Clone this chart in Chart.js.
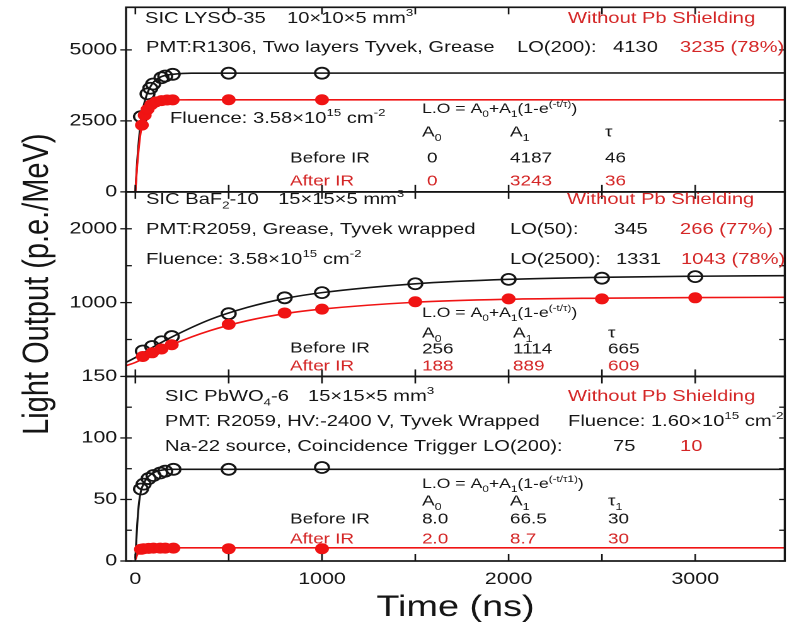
<!DOCTYPE html>
<html><head><meta charset="utf-8">
<script src="https://cdn.jsdelivr.net/npm/chart.js@4.4.0/dist/chart.umd.min.js"></script>
<style>
html,body{margin:0;padding:0;background:#fff;overflow:hidden;width:794px;height:627px}
#wrap{position:absolute;left:0;top:0;width:630px;height:627px;transform:scaleX(1.26032);transform-origin:0 0}
</style></head><body>
<div id="wrap"><canvas id="c"></canvas></div>
<script>
const S = 794 / 630;               // horizontal stretch of the original picture
const FONT = "'Liberation Sans', Arial, sans-serif";
const BLACK = '#151515', RED = '#f01414', RED_TXT = '#d42626';

// ---------- tick values / labels ----------
const xTicks = [0, 500, 1000, 1500, 2000, 2500, 3000];
const xLabels = ['0', '', '1000', '', '2000', '', '3000'];
const y1Ticks = [0, 2500, 5000];
const y1Labels = ['0', '2500', '5000'];
const y2Ticks = [0, 500, 1000, 1500, 2000, 2500];
const y2Labels = ['', '', '1000', '', '2000', ''];
const y3Ticks = [0, 25, 50, 75, 100, 125, 150];
const y3Labels = ['0', '', '50', '', '100', '', '150'];

// ---------- Panel 1 : LYSO-35 ----------
const lysoTimeBefore = [30, 65, 80, 95, 140, 160, 200, 500, 1000];
const lysoBefore = [2650, 3450, 3650, 3800, 4020, 4080, 4140, 4180, 4180];
const lysoTimeAfter = [35, 50, 65, 85, 110, 140, 170, 200, 500, 1000];
const lysoAfter = [2350, 2700, 2900, 3070, 3170, 3215, 3235, 3240, 3243, 3243];
const lysoFitTime = [0, 10, 20, 30, 45, 60, 80, 100, 130, 160, 200, 300, 3480];
const lysoFitBefore = [0, 1100, 1900, 2500, 3050, 3400, 3700, 3880, 4030, 4100, 4140, 4180, 4187];
const lysoFitAfter = [0, 950, 1650, 2150, 2600, 2850, 3050, 3150, 3210, 3230, 3240, 3243, 3243];

// ---------- Panel 2 : BaF2-10 ----------
const bafTime = [40, 90, 140, 195, 500, 800, 1000, 1500, 2000, 2500, 3000];
const bafBefore = [345, 405, 470, 540, 850, 1065, 1135, 1255, 1315, 1331, 1352];
const bafAfter = [270, 320, 372, 430, 705, 860, 912, 1012, 1050, 1050, 1065];
const bafFitTime = [-50, 0, 100, 200, 400, 600, 800, 1000, 1500, 2000, 2500, 3000, 3480];
const bafFitBefore = [190, 256, 405, 540, 770, 935, 1055, 1135, 1255, 1315, 1343, 1357, 1365];
const bafFitAfter = [147, 190, 320, 435, 620, 755, 850, 912, 1005, 1045, 1060, 1068, 1072];

// ---------- Panel 3 : PbWO4-6 ----------
const pwoTime = [30, 44, 71, 97, 133, 160, 204, 500, 1000];
const pwoBefore = [58.5, 62.5, 67, 69.5, 71.5, 73, 74.5, 74.5, 76];
const pwoAfter = [9.5, 10, 10.3, 10.5, 10.5, 10.5, 10.5, 10, 10];
const pwoFitTime = [0, 10, 20, 30, 45, 60, 80, 100, 130, 160, 200, 3480];
const pwoFitBefore = [2, 30, 48, 57, 63, 67, 70, 72, 73.5, 74.2, 74.5, 74.5];
const pwoFitAfter = [1, 5, 7.5, 8.8, 9.8, 10.2, 10.4, 10.5, 10.6, 10.6, 10.7, 10.7];

// ---------- annotations (reference-pixel positions) ----------
const notes = [
  // panel 1
  {x:145, y:17, t:'SIC LYSO-35'}, {x:287, y:17, t:'10×10×5 mm^{3}'},
  {x:568, y:17, t:'Without Pb Shielding', red:true},
  {x:146, y:46, t:'PMT:R1306, Two layers Tyvek, Grease'}, {x:517, y:46, t:'LO(200):'},
  {x:613, y:46, t:'4130'}, {x:680, y:46, t:'3235 (78%)', red:true},
  {x:170, y:117, t:'Fluence: 3.58×10^{15} cm^{-2}'},
  {x:422, y:108, t:'L.O = A_{0}+A_{1}(1-e^{(-t/τ)})', s:14},
  {x:422, y:131, t:'A_{0}', s:15}, {x:510, y:131, t:'A_{1}', s:15}, {x:605, y:131, t:'τ', s:15},
  {x:290, y:157, t:'Before IR', s:15}, {x:427, y:157, t:'0', s:15}, {x:510, y:157, t:'4187', s:15}, {x:605, y:157, t:'46', s:15},
  {x:290, y:180, t:'After IR', s:15, red:true}, {x:427, y:180, t:'0', s:15, red:true},
  {x:510, y:180, t:'3243', s:15, red:true}, {x:605, y:180, t:'36', s:15, red:true},
  // panel 2
  {x:146, y:198, t:'SIC BaF_{2}-10'}, {x:278, y:198, t:'15×15×5 mm^{3}'},
  {x:567, y:198, t:'Without Pb Shielding', red:true},
  {x:146, y:228, t:'PMT:R2059, Grease, Tyvek wrapped'}, {x:510, y:228, t:'LO(50):'},
  {x:614, y:228, t:'345'}, {x:680, y:228, t:'266 (77%)', red:true},
  {x:146, y:258, t:'Fluence: 3.58×10^{15} cm^{-2}'}, {x:510, y:258, t:'LO(2500):'},
  {x:616, y:258, t:'1331'}, {x:681, y:258, t:'1043 (78%)', red:true},
  {x:422, y:312, t:'L.O = A_{0}+A_{1}(1-e^{(-t/τ)})', s:14},
  {x:422, y:332, t:'A_{0}', s:15}, {x:513, y:332, t:'A_{1}', s:15}, {x:608, y:332, t:'τ', s:15},
  {x:290, y:347, t:'Before IR', s:15}, {x:422, y:348, t:'256', s:15}, {x:513, y:348, t:'1114', s:15}, {x:608, y:348, t:'665', s:15},
  {x:290, y:365, t:'After IR', s:15, red:true}, {x:422, y:365, t:'188', s:15, red:true},
  {x:513, y:365, t:'889', s:15, red:true}, {x:608, y:365, t:'609', s:15, red:true},
  // panel 3
  {x:165, y:395, t:'SIC PbWO_{4}-6'}, {x:308, y:395, t:'15×15×5 mm^{3}'},
  {x:568, y:395, t:'Without Pb Shielding', red:true},
  {x:165, y:420, t:'PMT: R2059, HV:-2400 V, Tyvek Wrapped'},
  {x:568, y:420, t:'Fluence: 1.60×10^{15} cm^{-2}'},
  {x:165, y:445, t:'Na-22 source, Coincidence Trigger'}, {x:483, y:445, t:'LO(200):'},
  {x:613, y:445, t:'75'}, {x:680, y:445, t:'10', red:true},
  {x:422, y:483, t:'L.O = A_{0}+A_{1}(1-e^{(-t/τ1)})', s:14},
  {x:422, y:500, t:'A_{0}', s:15}, {x:510, y:500, t:'A_{1}', s:15}, {x:608, y:500, t:'τ_{1}', s:15},
  {x:290, y:518, t:'Before IR', s:15}, {x:422, y:518, t:'8.0', s:15}, {x:510, y:518, t:'66.5', s:15}, {x:608, y:518, t:'30', s:15},
  {x:290, y:538, t:'After IR', s:15, red:true}, {x:422, y:538, t:'2.0', s:15, red:true},
  {x:510, y:538, t:'8.7', s:15, red:true}, {x:608, y:538, t:'30', s:15, red:true}
];

function pts(xs, ys) { return xs.map((x, i) => ({x: x, y: ys[i]})); }

function parseRich(s, scale, dy, out) {
  let buf = '', i = 0;
  while (i < s.length) {
    const c = s[i];
    if ((c === '^' || c === '_') && s[i + 1] === '{') {
      if (buf) { out.push({t: buf, scale, dy}); buf = ''; }
      let depth = 1, j = i + 2;
      while (j < s.length && depth > 0) { if (s[j] === '{') depth++; else if (s[j] === '}') depth--; j++; }
      parseRich(s.slice(i + 2, j - 1), scale * 0.66, dy + (c === '^' ? -0.42 * scale : 0.3 * scale), out);
      i = j;
    } else { buf += c; i++; }
  }
  if (buf) out.push({t: buf, scale, dy});
  return out;
}

const notesPlugin = {
  id: 'notes',
  afterDraw(chart) {
    const ctx = chart.ctx;
    ctx.save();
    ctx.textBaseline = 'alphabetic';
    ctx.textAlign = 'left';
    notes.forEach(n => {
      const size = n.s || 16;
      const runs = parseRich(n.t, 1, 0, []);
      let x = n.x / S;
      const base = n.y + 0.36 * size;
      ctx.fillStyle = n.red ? RED_TXT : BLACK;
      runs.forEach(r => {
        ctx.font = (size * r.scale).toFixed(2) + 'px ' + FONT;
        ctx.fillText(r.t, x, base + r.dy * size);
        x += ctx.measureText(r.t).width;
      });
    });
    ctx.restore();
  }
};

const framePlugin = {
  id: 'frame',
  afterDatasetsDraw(chart) {
    const {ctx, chartArea: ca, scales} = chart;
    ctx.save();
    ctx.strokeStyle = BLACK;
    const line = (x1, y1, x2, y2) => { ctx.beginPath(); ctx.moveTo(x1, y1); ctx.lineTo(x2, y2); ctx.stroke(); };
    const panels = [['y1', y1Ticks, y1Labels], ['y2', y2Ticks, y2Labels], ['y3', y3Ticks, y3Labels]];
    ctx.lineWidth = 1.3;
    panels.forEach(([id, tv, tl]) => {
      const s = scales[id];
      tv.forEach((v, i) => {
        const py = s.getPixelForValue(v);
        const major = tl[i] !== '';
        line(ca.left - (major ? 4.5 : 0), py, ca.left + 4.5, py);
        line(ca.right, py, ca.right - 4.5, py);
      });
      xTicks.forEach(v => {
        const px = scales.x.getPixelForValue(v);
        line(px, s.top, px, s.top + 7);
        line(px, s.bottom, px, s.bottom - 7);
      });
    });
    ctx.lineWidth = 1.7;
    panels.forEach(([id]) => {
      const s = scales[id];
      ctx.strokeRect(ca.left, s.top, ca.right - ca.left, s.bottom - s.top);
    });
    ctx.restore();
  }
};

function pointSet(data, yId, filled, order) {
  return {data, yAxisID: yId, xAxisID: 'x', showLine: false, order,
    pointStyle: 'circle', pointRadius: filled ? 5 : 5.5, pointHoverRadius: 0,
    pointBorderWidth: filled ? 1 : 1.8,
    pointBorderColor: filled ? RED : BLACK,
    pointBackgroundColor: filled ? RED : 'rgba(255,255,255,0)'};
}
function lineSet(data, yId, color, order) {
  return {data, yAxisID: yId, xAxisID: 'x', showLine: true, order,
    borderColor: color, borderWidth: 1.6, pointRadius: 0, pointHoverRadius: 0,
    cubicInterpolationMode: 'monotone', fill: false};
}

const datasets = [
  pointSet(pts(lysoTimeAfter, lysoAfter), 'y1', true, 0),
  pointSet(pts(lysoTimeBefore, lysoBefore), 'y1', false, 1),
  lineSet(pts(lysoFitTime, lysoFitAfter), 'y1', RED, 2),
  lineSet(pts(lysoFitTime, lysoFitBefore), 'y1', BLACK, 3),
  pointSet(pts(bafTime, bafAfter), 'y2', true, 0),
  pointSet(pts(bafTime, bafBefore), 'y2', false, 1),
  lineSet(pts(bafFitTime, bafFitAfter), 'y2', RED, 2),
  lineSet(pts(bafFitTime, bafFitBefore), 'y2', BLACK, 3),
  pointSet(pts(pwoTime, pwoAfter), 'y3', true, 0),
  pointSet(pts(pwoTime, pwoBefore), 'y3', false, 1),
  lineSet(pts(pwoFitTime, pwoFitAfter), 'y3', RED, 2),
  lineSet(pts(pwoFitTime, pwoFitBefore), 'y3', BLACK, 3)
];

function yAxis(min, max, tv, tl, extra) {
  return Object.assign({
    type: 'linear', position: 'left', stack: 'panels', stackWeight: 1,
    min, max,
    afterBuildTicks: s => { s.ticks = tv.map(v => ({value: v})); },
    afterFit: s => { s.width = 100; s.paddingTop = 0; s.paddingBottom = 0; s.paddingLeft = 0; s.paddingRight = 0; },
    grid: {display: false, drawTicks: false},
    border: {display: false},
    ticks: {autoSkip: false, padding: 7, color: BLACK, font: {family: FONT, size: 17},
      callback: v => { const i = tv.indexOf(v); return i < 0 ? '' : tl[i]; }}
  }, extra || {});
}

new Chart(document.getElementById('c'), {
  type: 'scatter',
  data: {datasets},
  options: {
    responsive: true, maintainAspectRatio: false, animation: false,
    devicePixelRatio: 2,
    layout: {padding: {top: 3, right: 3.2, bottom: 0, left: 0}},
    plugins: {legend: {display: false}, tooltip: {enabled: false}},
    scales: {
      x: {
        type: 'linear', position: 'bottom', min: -50, max: 3480,
        afterBuildTicks: s => { s.ticks = xTicks.map(v => ({value: v})); },
        afterFit: s => { s.height = 66; s.paddingLeft = 0; s.paddingRight = 0; s.paddingTop = 0; s.paddingBottom = 0; },
        grid: {display: false, drawTicks: false},
        border: {display: false},
        ticks: {autoSkip: false, maxRotation: 0, padding: 8, color: BLACK, font: {family: FONT, size: 17},
          callback: v => { const i = xTicks.indexOf(v); return i < 0 ? '' : xLabels[i]; }},
        title: {display: true, text: 'Time (ns)', color: BLACK, font: {family: FONT, size: 30}, padding: {top: 0, bottom: 1.5}}
      },
      y3: yAxis(0, 150, y3Ticks, y3Labels),
      y2: yAxis(0, 2500, y2Ticks, y2Labels, {
        title: {display: true, text: 'Light Output (p.e./MeV)', color: BLACK, font: {family: FONT, size: 29}, padding: {top: 12.6, bottom: 0}}
      }),
      y1: yAxis(0, 6500, y1Ticks, y1Labels)
    }
  },
  plugins: [framePlugin, notesPlugin]
});
</script>
</body></html>
